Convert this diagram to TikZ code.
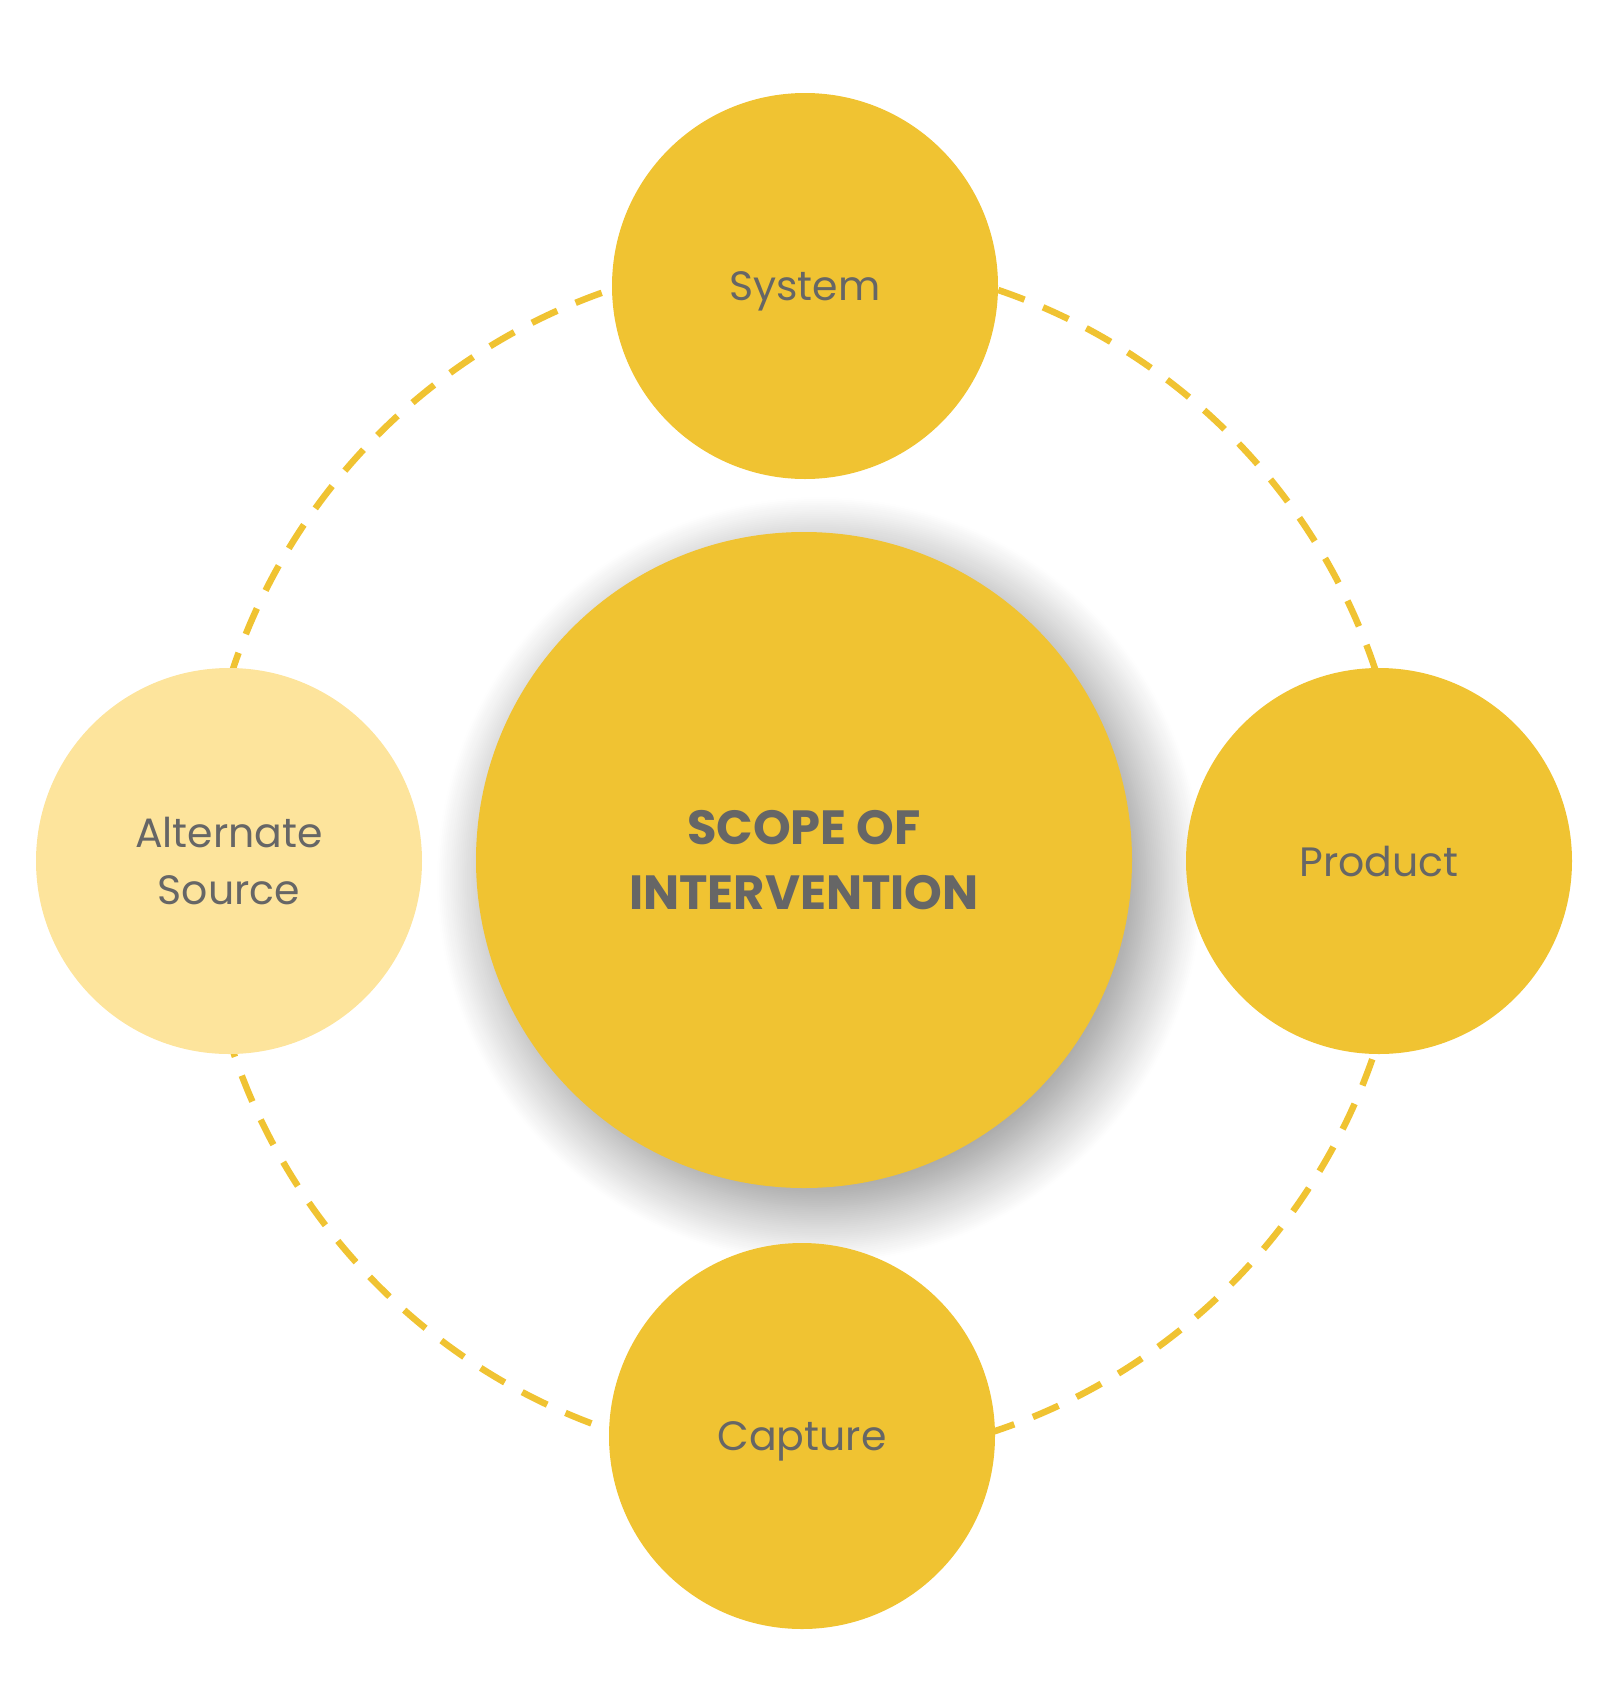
\documentclass[tikz,border=0pt]{standalone}
\usepackage{fontspec}
\setmainfont{Poppins}
\usetikzlibrary{shadows.blur}
\definecolor{ybase}{HTML}{F0C332}
\definecolor{ylight}{HTML}{FDE49C}
\definecolor{tgray}{HTML}{666666}
\begin{document}
\begin{tikzpicture}[x=1pt,y=-1pt,
  sat/.style={circle,fill=ybase,minimum size=386pt,inner sep=0pt,text=tgray,font=\fontsize{41}{57}\selectfont,align=center,text depth=0pt},
  ring/.style={draw=ybase,line width=6.5pt,dash pattern=on 28pt off 20pt}]
\useasboundingbox (0,0) rectangle (1604,1690);
\coordinate (c) at (804,860);
\draw[ring] (c) circle[radius=602pt];
\node[circle,fill=ybase,minimum size=656pt,inner sep=0pt,text=tgray,align=center,text depth=0pt,
  font=\fontsize{48}{65}\selectfont\bfseries,
  blur shadow={shadow xshift=16pt,shadow yshift=-20pt,shadow blur radius=55pt,shadow blur steps=30,shadow opacity=45}]
  (main) at (c) {SCOPE OF\\INTERVENTION};
\node[sat] (system) at (805,286) {System};
\node[sat,fill=ylight] (alt) at (229,861) {Alternate\\Source};
\node[sat] (product) at (1379,861) {Product};
\node[sat] (capture) at (802,1436) {Capture};
\end{tikzpicture}
\end{document}
